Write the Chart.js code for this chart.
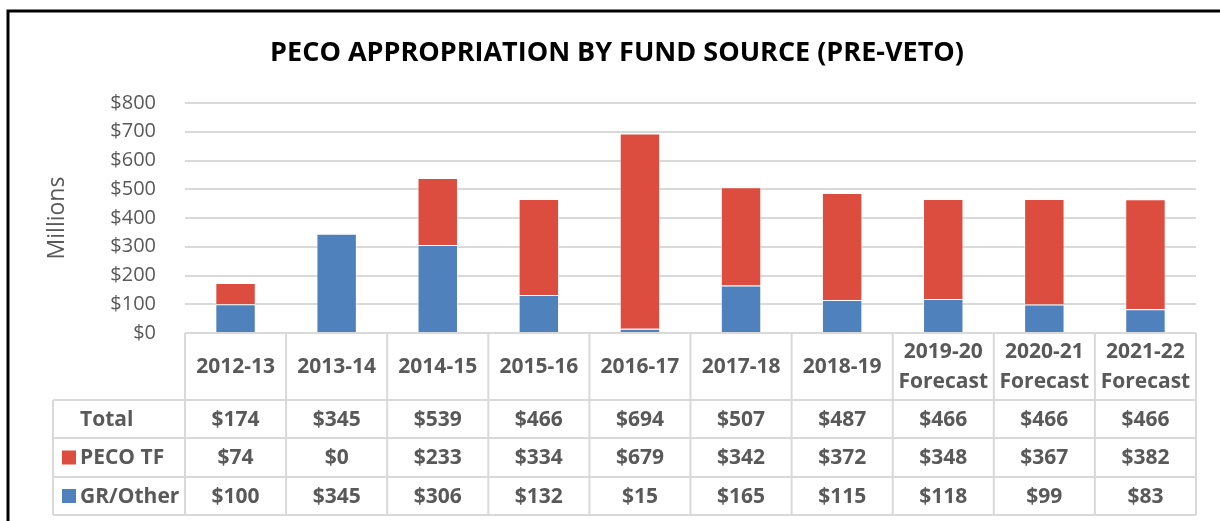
<!DOCTYPE html>
<html>
<head>
<meta charset="utf-8">
<title>PECO Appropriation by Fund Source</title>
<script src="https://cdn.jsdelivr.net/npm/chart.js@4"></script>
<style>
  html, body { margin: 0; padding: 0; background: #fff; }
  #wrap { width: 1220px; height: 521px; }
</style>
</head>
<body>
<div id="wrap"><canvas id="myChart" width="1220" height="521"></canvas></div>
<script>
// fiscal years, two-line labels for the forecast years
const years = [
    ['2012-13'], ['2013-14'], ['2014-15'], ['2015-16'], ['2016-17'],
    ['2017-18'], ['2018-19'], ['2019-20', 'Forecast'], ['2020-21', 'Forecast'], ['2021-22', 'Forecast']
];
// $ millions
const pecoTF = [74, 0, 233, 334, 679, 342, 372, 348, 367, 382];
const grOther = [100, 345, 306, 132, 15, 165, 115, 118, 99, 83];
const totals = [174, 345, 539, 466, 694, 507, 487, 466, 466, 466];
const yTicks = [0, 100, 200, 300, 400, 500, 600, 700, 800];

const TITLE = 'PECO APPROPRIATION BY FUND SOURCE (PRE-VETO)';
const RED = '#dc4c3f';
const BLUE = '#4f81bd';
const GREY_TEXT = '#595959';
const GRID = '#d9d9d9';
const FONT = '"Open Sans", "Noto Sans", sans-serif';

const money = (v) => '$' + v;

// frame, title, and the data table under the plot
const tablePlugin = {
    id: 'dataTable',
    beforeDraw(chart) {
        const c = chart.ctx;
        c.save();
        c.fillStyle = '#fff';
        c.fillRect(0, 0, chart.width, chart.height);
        // frame (left and top edges)
        c.strokeStyle = '#000';
        c.lineWidth = 3;
        c.beginPath();
        c.moveTo(8, chart.height);
        c.lineTo(8, 11);
        c.lineTo(chart.width, 11);
        c.stroke();
        // title
        c.fillStyle = '#000';
        c.font = 'bold 27px ' + FONT;
        c.textAlign = 'center';
        c.textBaseline = 'middle';
        c.fillText(TITLE, 617, 53);
        c.restore();
    },
    afterDraw(chart) {
        const c = chart.ctx;
        const x = chart.scales.x;
        const area = chart.chartArea;
        const colW = (area.right - area.left) / years.length;
        const rowY = [area.bottom, 400, 438, 477, 515];
        const tableLeft = 53;

        c.save();
        c.strokeStyle = GRID;
        c.lineWidth = 2;
        c.beginPath();
        // horizontal rules
        c.moveTo(area.left, rowY[0]);
        c.lineTo(area.right, rowY[0]);
        for (let r = 1; r < rowY.length; r++) {
            c.moveTo(tableLeft, rowY[r]);
            c.lineTo(area.right, rowY[r]);
        }
        // vertical rules
        for (let i = 0; i <= years.length; i++) {
            const px = area.left + i * colW;
            c.moveTo(px, rowY[0]);
            c.lineTo(px, rowY[4]);
        }
        c.moveTo(tableLeft, rowY[1]);
        c.lineTo(tableLeft, rowY[4]);
        c.stroke();

        c.fillStyle = GREY_TEXT;
        c.font = 'bold 21px ' + FONT;
        c.textAlign = 'center';
        c.textBaseline = 'middle';

        // header
        const headMid = (rowY[0] + rowY[1]) / 2 + 1;
        years.forEach((lines, i) => {
            const cx = x.getPixelForValue(i);
            if (lines.length === 1) {
                c.fillText(lines[0], cx, headMid);
            } else {
                c.fillText(lines[0], cx, headMid - 15);
                c.fillText(lines[1], cx, headMid + 15);
            }
        });

        // body rows
        const rows = [
            { label: 'Total', values: totals, key: null },
            { label: 'PECO TF', values: pecoTF, key: RED },
            { label: 'GR/Other', values: grOther, key: BLUE }
        ];
        rows.forEach((row, r) => {
            const mid = (rowY[r + 1] + rowY[r + 2]) / 2 + 1;
            if (row.key) {
                c.fillStyle = row.key;
                c.fillRect(62, mid - 8, 14, 14);
            }
            c.fillStyle = GREY_TEXT;
            c.textAlign = 'left';
            c.fillText(row.label, 80, mid);
            c.textAlign = 'center';
            row.values.forEach((v, i) => {
                c.fillText(money(v), x.getPixelForValue(i), mid);
            });
        });
        c.restore();
    }
};

const ctx = document.getElementById('myChart').getContext('2d');

const data = {
    labels: years.map((l) => l.join(' ')),
    datasets: [{
        label: 'GR/Other',
        data: grOther,
        backgroundColor: BLUE,
        borderColor: 'rgba(255,255,255,0.5)',
        borderWidth: 1
    }, {
        label: 'PECO TF',
        data: pecoTF,
        backgroundColor: RED,
        borderColor: 'rgba(255,255,255,0.5)',
        borderWidth: 1
    }]
};

const config = {
    type: 'bar',
    data: data,
    plugins: [tablePlugin],
    options: {
        responsive: false,
        animation: false,
        layout: {
            padding: { top: 103, left: 0, right: 24, bottom: 188 }
        },
        datasets: {
            bar: { categoryPercentage: 1, barPercentage: 0.4 }
        },
        plugins: {
            legend: { display: false },
            tooltip: { enabled: false },
            title: { display: false }
        },
        scales: {
            x: {
                stacked: true,
                display: false
            },
            y: {
                stacked: true,
                min: 0,
                max: 800,
                afterBuildTicks: (scale) => {
                    scale.ticks = yTicks.map((v) => ({ value: v }));
                },
                afterFit: (scale) => {
                    scale.width = 185;
                },
                border: { display: false },
                grid: {
                    color: GRID,
                    lineWidth: 2,
                    drawTicks: false
                },
                ticks: {
                    color: GREY_TEXT,
                    padding: 29,
                    font: { family: FONT, size: 20 },
                    callback: (v) => money(v)
                },
                title: {
                    display: true,
                    text: 'Millions',
                    color: GREY_TEXT,
                    font: { family: FONT, size: 23, lineHeight: 1.2 },
                    padding: { top: 44, bottom: 0 }
                }
            }
        }
    }
};

const myChart = new Chart(ctx, config);
</script>
</body>
</html>
